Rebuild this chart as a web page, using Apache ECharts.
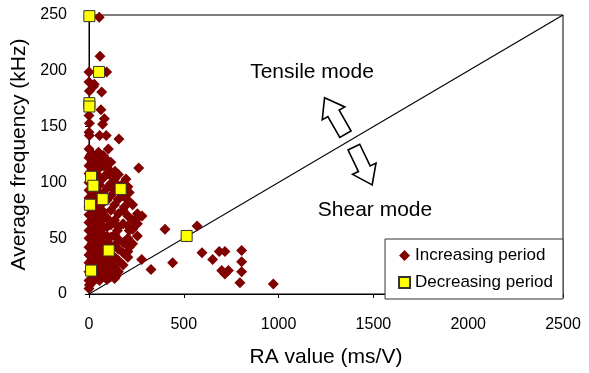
<!DOCTYPE html>
<html>
<head>
<meta charset="utf-8">
<script src="https://cdn.jsdelivr.net/npm/echarts@6/dist/echarts.min.js"></script>
<style>
  html, body { margin: 0; padding: 0; background: #fff; }
  #chart { width: 589px; height: 373px; }
</style>
</head>
<body>
<div id="chart"></div>
<script>
// RA value (ms/V), average frequency (kHz)
const increasingSparse = [
  [54,248],[58,213],[0,199],[93,199],[28,188],[23,186],[2,182],[67,181],[63,165],[81,157],
  [2,153],[72,152],[2,142],[56,142],[91,142],[158,139],[7,124],[50,127],[102,130],[50,117],
  [102,112],[137,110],[262,113],[195,103],[212,91],[186,78],[257,68],[212,57],[150,57],
  [401,58],[570,61],[596,37],[652,31],[441,28],[327,22],[278,31],[212,42],[205,33],[142,16],[2,8],
  [687,38],[717,38],[805,39],[805,29],[700,21],[735,21],[717,18],[805,20],[796,10],[972,9]
]
// dense cluster near the frequency axis, read column by column
const clusterRA = [0, 15, 35, 55, 75, 95, 115, 135, 155, 180, 205, 230, 255, 280]
const clusterFreq = [
  [5,12,20,28,35,42,50,57,64,71,78,86,93,100,108,115,122,130,145,160,172,190],
  [10,17,24,31,38,45,52,59,66,73,80,88,95,103,111,118,126],
  [14,21,28,35,43,50,57,64,71,78,85,92,100,107,114,121],
  [12,19,26,33,40,47,54,61,68,76,84,91,98,105,113,120],
  [16,24,32,39,46,53,60,67,74,82,90,104,115,124],
  [13,21,29,37,45,52,60,68,84,95,108,120],
  [18,27,35,43,51,62,75,88,99,106,118],
  [14,24,33,44,53,66,80,93,103],
  [20,30,40,49,60,72,85,97,107],
  [26,37,46,63,75,88,99],
  [38,50,61,70,84,96],
  [45,58,66,80],
  [52,63,72],
  [70]
]
const decreasing = [
  [2,249],[53,199],[2,171],[2,168],[11,105],[23,97],[72,85],[167,94],[5,80],[104,39],[11,21],[515,52]
]
const xTicks = { min: 0, max: 2500, interval: 500 }
const yTicks = { min: 0, max: 250, interval: 50 }
const boundary = [[-65,-6.5],[2500,250]]

const increasing = increasingSparse.slice()
clusterRA.forEach((ra, i) => {
  clusterFreq[i].forEach(f => increasing.push([ra, f]))
})

const FONT = '"Liberation Sans", Arial, sans-serif'

// hollow block arrow pointing up, centred on 0,0
const arrowShape = [[0,-21],[13,-3],[6.5,-3],[6.5,21],[-6.5,21],[-6.5,-3],[-13,-3]]

const options = {
  animation: false,
  grid: {
    left: 89, right: 26, top: 15, bottom: 77,
    show: true, borderColor: '#000', borderWidth: 1
  },
  xAxis: {
    type: 'value',
    min: xTicks.min, max: xTicks.max, interval: xTicks.interval,
    name: 'RA value (ms/V)',
    nameLocation: 'middle',
    nameGap: 53,
    nameTextStyle: { color: '#000', fontSize: 21, fontFamily: FONT },
    axisLine: { lineStyle: { color: '#000', width: 1 } },
    axisTick: { show: true, length: 4, lineStyle: { color: '#000' } },
    axisLabel: { margin: 23, color: '#000', fontSize: 16, fontFamily: FONT, formatter: v => String(v) },
    splitLine: { show: false }
  },
  yAxis: {
    type: 'value',
    min: yTicks.min, max: yTicks.max, interval: yTicks.interval,
    name: 'Average frequency (kHz)',
    nameLocation: 'middle',
    nameGap: 53,
    nameTextStyle: { color: '#000', fontSize: 21, fontFamily: FONT },
    axisLine: { show: true, lineStyle: { color: '#000', width: 1 } },
    axisTick: { show: true, length: 4, lineStyle: { color: '#000' } },
    axisLabel: { margin: 22, color: '#000', fontSize: 16, fontFamily: FONT, formatter: v => String(v) },
    splitLine: { show: false }
  },
  legend: {
    right: 26, top: 239,
    orient: 'vertical',
    backgroundColor: '#fff',
    borderColor: '#333', borderWidth: 1,
    padding: [8, 10, 8, 13],
    itemGap: 10, itemWidth: 11, itemHeight: 11,
    textStyle: { color: '#000', fontSize: 17, fontFamily: FONT },
    data: [
      { name: 'Increasing period', icon: 'diamond' },
      { name: 'Decreasing period', icon: 'rect' }
    ]
  },
  graphic: [
    { type: 'text', x: 312, y: 72, style: { text: 'Tensile mode', font: '21px ' + FONT, fill: '#000', align: 'center', verticalAlign: 'middle' } },
    { type: 'text', x: 375, y: 210, style: { text: 'Shear mode', font: '21px ' + FONT, fill: '#000', align: 'center', verticalAlign: 'middle' } },
    { type: 'polygon', x: 335, y: 116, rotation: 0.52, shape: { points: arrowShape }, style: { fill: '#fff', stroke: '#000', lineWidth: 1.6 } },
    { type: 'polygon', x: 363, y: 166, rotation: Math.PI + 0.45, shape: { points: arrowShape }, style: { fill: '#fff', stroke: '#000', lineWidth: 1.6 } }
  ],
  series: [
    {
      name: 'boundary',
      type: 'line',
      data: boundary,
      symbol: 'none',
      clip: false,
      silent: true,
      z: 1,
      lineStyle: { color: '#000', width: 1.2 }
    },
    {
      name: 'Increasing period',
      type: 'scatter',
      symbol: 'diamond',
      symbolSize: 11,
      z: 2,
      itemStyle: { color: '#800000', opacity: 1 },
      data: increasing
    },
    {
      name: 'Decreasing period',
      type: 'scatter',
      symbol: 'rect',
      symbolSize: 11,
      z: 3,
      itemStyle: { color: '#ffff00', borderColor: '#333', borderWidth: 1, opacity: 1 },
      data: decreasing
    }
  ]
}

const ChartEl = echarts.init(document.getElementById('chart'))
ChartEl.setOption(options)
</script>
</body>
</html>
